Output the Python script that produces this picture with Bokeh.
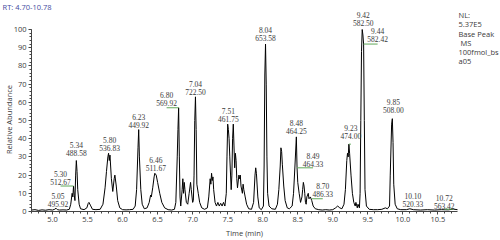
import math
from bokeh.plotting import figure
from bokeh.models import ColumnDataSource, LabelSet, Label, FixedTicker, Range1d, NumeralTickFormatter
from bokeh.embed import file_html
from bokeh.resources import INLINE

# ---------------- data ----------------
rt = [4.70, 4.75, 4.80, 4.85, 4.90, 4.95, 5.00, 5.03, 5.05, 5.07, 5.10, 5.15, 5.20, 5.24,
      5.26, 5.28, 5.29, 5.30, 5.31, 5.32, 5.33, 5.34, 5.35, 5.36, 5.38, 5.40, 5.45, 5.49,
      5.51, 5.52, 5.54, 5.57, 5.62, 5.68, 5.72, 5.75, 5.77, 5.79, 5.80, 5.81, 5.82, 5.84,
      5.86, 5.88, 5.89, 5.91, 5.93, 5.96, 6.00, 6.05, 6.10, 6.15, 6.18, 6.20, 6.22, 6.23,
      6.24, 6.26, 6.28, 6.31, 6.35, 6.38, 6.40, 6.41, 6.43, 6.45, 6.46, 6.48, 6.50, 6.53,
      6.56, 6.60, 6.65, 6.70, 6.74, 6.76, 6.78, 6.79, 6.80, 6.81, 6.82, 6.83, 6.85, 6.86,
      6.87, 6.88, 6.89, 6.91, 6.93, 6.95, 6.97, 6.98, 7.00, 7.01, 7.02, 7.03, 7.04, 7.05,
      7.06, 7.08, 7.10, 7.13, 7.17, 7.21, 7.23, 7.25, 7.26, 7.27, 7.28, 7.29, 7.30, 7.32,
      7.34, 7.36, 7.38, 7.40, 7.42, 7.44, 7.46, 7.48, 7.49, 7.50, 7.51, 7.52, 7.53, 7.55,
      7.56, 7.57, 7.58, 7.59, 7.60, 7.61, 7.62, 7.63, 7.64, 7.66, 7.67, 7.68, 7.69, 7.71,
      7.72, 7.73, 7.75, 7.77, 7.80, 7.84, 7.87, 7.89, 7.90, 7.91, 7.93, 7.95, 7.98, 8.01,
      8.02, 8.03, 8.04, 8.05, 8.06, 8.07, 8.09, 8.13, 8.18, 8.21, 8.23, 8.25, 8.26, 8.27,
      8.28, 8.30, 8.32, 8.35, 8.38, 8.42, 8.44, 8.46, 8.48, 8.49, 8.50, 8.52, 8.54, 8.56,
      8.57, 8.58, 8.59, 8.60, 8.61, 8.62, 8.63, 8.65, 8.66, 8.68, 8.70, 8.72, 8.75, 8.80,
      8.85, 8.90, 8.95, 9.00, 9.04, 9.07, 9.10, 9.13, 9.16, 9.18, 9.20, 9.21, 9.22, 9.23,
      9.24, 9.26, 9.28, 9.30, 9.32, 9.33, 9.35, 9.36, 9.38, 9.39, 9.40, 9.41, 9.42, 9.43,
      9.44, 9.45, 9.46, 9.48, 9.52, 9.58, 9.64, 9.70, 9.75, 9.78, 9.81, 9.82, 9.84, 9.85,
      9.86, 9.87, 9.89, 9.92, 9.97, 10.05, 10.10, 10.15, 10.25, 10.35, 10.45, 10.55, 10.65,
      10.72, 10.78]
abundance = [0.8, 1.0, 0.6, 0.9, 0.7, 1.0, 0.8, 1.2, 1.8, 1.0, 0.8, 0.9, 0.8, 1.2,
             4, 10, 8, 14, 9, 6, 20, 28, 22, 12, 4, 1.5, 1.0, 2,
             4.5, 5, 3.5, 1.2, 1.0, 1.2, 4, 13, 22, 30, 32, 28, 31, 18,
             11, 18, 20, 14, 6, 2, 1.0, 0.9, 1.0, 1.2, 3, 12, 35, 45,
             30, 12, 4, 1.5, 2, 5, 9, 8, 13, 19, 21, 20, 16, 10,
             5, 2, 1.0, 0.8, 1.2, 5, 30, 45, 57, 30, 8, 3, 12, 18,
             10, 16, 12, 5, 4, 10, 16, 12, 5, 6, 20, 50, 63, 45,
             15, 10, 5, 2, 1.2, 2, 8, 18, 15, 21, 17, 19, 12, 5,
             3, 5, 3, 4.5, 3, 5, 3, 10, 30, 48, 45, 40, 30, 12,
             20, 40, 48, 36, 24, 32, 28, 18, 13, 20, 18, 20, 14, 10,
             15, 12, 8, 4, 1.5, 1.2, 5, 20, 24, 21, 8, 2, 1.0, 3,
             25, 75, 92, 70, 30, 10, 3, 1.5, 1.2, 4, 12, 25, 35, 33,
             26, 14, 6, 2, 1.5, 3, 10, 25, 41, 24, 16, 10, 5, 8,
             12, 16, 14, 10, 5, 4, 8, 10, 7, 8, 6, 3, 1.5, 1.0,
             0.8, 1.0, 0.8, 1.0, 2, 3, 2, 1.5, 4, 12, 28, 32, 30, 37,
             32, 20, 10, 5, 3, 5, 2, 4, 2, 10, 50, 88, 100, 97,
             92, 50, 12, 3, 1.2, 1.0, 1.0, 1.2, 2, 1.5, 3, 20, 48, 51,
             38, 15, 4, 1.5, 1.0, 1.0, 1.5, 1.0, 0.8, 1.0, 0.8, 1.0, 0.9,
             1.3, 1.0]

peak_rt = [5.05, 5.30, 5.34, 5.80, 6.23, 6.46, 6.80, 7.04, 7.51, 8.04,
           8.48, 8.49, 8.70, 9.23, 9.42, 9.44, 9.85, 10.10, 10.72]
peak_abund = [1.8, 14, 28, 32, 45, 21, 57, 63, 48, 92,
              41, 24, 7, 37, 100, 92, 51, 1.5, 1.3]
peak_mz = ["495.92", "512.67", "488.58", "536.83", "449.92", "511.67", "569.92",
           "722.50", "461.75", "653.58", "464.25", "464.33", "486.33", "474.00",
           "582.50", "582.42", "508.00", "520.33", "563.42"]
peak_linked = [False, True, False, False, False, False, True, False, False, False,
               False, True, True, True, False, True, False, False, True]

x_ticks = [5.0, 5.5, 6.0, 6.5, 7.0, 7.5, 8.0, 8.5, 9.0, 9.5, 10.0, 10.5]
y_ticks = [0, 10, 20, 30, 40, 50, 60, 70, 80, 90, 100]

header_text = "RT: 4.70-10.78"
info_lines = ["NL:", "5.37E5", "Base Peak", " MS", "100fmol_bs", "a05"]
x_title = "Time (min)"
y_title = "Relative Abundance"

# ---------------- layout ----------------
W, H = 500, 240
AXIS_LEFT_PX, AXIS_RIGHT_PX, AXIS_BOTTOM_PX, AXIS_TOP_PX = 31, 457, 211, 29
X0, X1 = 4.70, 10.78
PX_X = (AXIS_RIGHT_PX - AXIS_LEFT_PX) / (X1 - X0)
PX_Y = (AXIS_BOTTOM_PX - AXIS_TOP_PX) / 100.0

def cx(px):   # canvas px -> data x
    return X0 + (px - AXIS_LEFT_PX) / PX_X

def cy(py):   # canvas px -> data y
    return (AXIS_BOTTOM_PX - py) / PX_Y

FONT = "Open Sans"
FS = "7.5px"
TXT = "#3a3a3a"

label_dx = [2, -13, 0, 1, 0, 1, -12, 0, 0, 0, 0, 16, 11, 2, 1, 14, 1, 3, -9]
label_dy = [4, 4.5, 8, 5, 5, 5, 4.3, 5, 5.6, 5.6, 5.4, 4, 4.3, 7.7, 7, 4.6, 9, 4.3, 3.6]
LINE_GAP = 8

# the frame covers the whole canvas; axes are pinned at fixed locations
p = figure(width=W, height=H,
           x_range=Range1d(cx(0), cx(W)), y_range=Range1d(cy(H), cy(0)),
           output_backend="svg", toolbar_location=None,
           min_border_left=0, min_border_right=0, min_border_top=0, min_border_bottom=0)
p.outline_line_color = None
p.xgrid.visible = False
p.ygrid.visible = False
p.background_fill_color = "white"
p.border_fill_color = "white"

# axes
p.xaxis.fixed_location = 0
p.yaxis.fixed_location = X0
p.xaxis.ticker = FixedTicker(ticks=x_ticks,
                             minor_ticks=[round(X0 + 0.1 * i, 2) for i in range(61)])
p.xaxis.formatter = NumeralTickFormatter(format="0.0")
p.xaxis.bounds = (X0, X1)
p.yaxis.ticker = FixedTicker(ticks=y_ticks, minor_ticks=list(range(0, 101, 2)))
p.yaxis.bounds = (0, 100)
for ax in (p.xaxis[0], p.yaxis[0]):
    ax.axis_line_color = "#444444"
    ax.major_tick_line_color = "#444444"
    ax.minor_tick_line_color = "#444444"
    ax.major_tick_out = 3
    ax.major_tick_in = 0
    ax.minor_tick_out = 2
    ax.minor_tick_in = 0
    ax.major_label_text_font = FONT
    ax.major_label_text_font_size = FS
    ax.major_label_text_color = TXT
    ax.major_label_standoff = 2

# chromatogram trace
p.line(rt, abundance, line_color="black", line_width=1)

# green link lines for offset labels
gx0, gx1, gy = [], [], []
for t, a, dx, lk in zip(peak_rt, peak_abund, label_dx, peak_linked):
    if lk:
        gx0.append(t)
        gx1.append(t + dx / PX_X)
        gy.append(a)
p.segment(x0=gx0, y0=gy, x1=gx1, y1=gy, line_color="#5fa85a", line_width=1)

# peak labels
src = ColumnDataSource(dict(
    x=peak_rt, y=peak_abund,
    rt_text=[f"{t:.2f}" for t in peak_rt], mz_text=peak_mz,
    dx=label_dx, dy_mz=label_dy, dy_rt=[d + LINE_GAP for d in label_dy]))
for col, off in (("rt_text", "dy_rt"), ("mz_text", "dy_mz")):
    p.add_layout(LabelSet(x="x", y="y", text=col, source=src, x_offset="dx", y_offset=off,
                          text_align="center", text_baseline="middle",
                          text_font=FONT, text_font_size=FS, text_color=TXT))

# titles and side texts
p.add_layout(Label(x=cx(8), y=cy(119), text=y_title, angle=math.pi / 2,
                   text_align="center", text_baseline="middle",
                   text_font=FONT, text_font_size=FS, text_color=TXT))
p.add_layout(Label(x=cx(244), y=cy(232), text=x_title,
                   text_align="center", text_baseline="middle",
                   text_font=FONT, text_font_size=FS, text_color=TXT))
p.add_layout(Label(x=cx(2), y=cy(6), text=header_text,
                   text_align="left", text_baseline="middle",
                   text_font=FONT, text_font_size=FS, text_color="#3f4aa0"))
info_y = [14, 23, 33, 42, 51, 60]
for s, py in zip(info_lines, info_y):
    indent = 2 if s.startswith(" ") else 0   # SVG collapses the leading blank
    p.add_layout(Label(x=cx(458), y=cy(py), text=s.strip(), x_offset=indent,
                       text_align="left", text_baseline="middle",
                       text_font=FONT, text_font_size=FS, text_color=TXT))

open("out.html", "w").write(file_html(p, INLINE))
